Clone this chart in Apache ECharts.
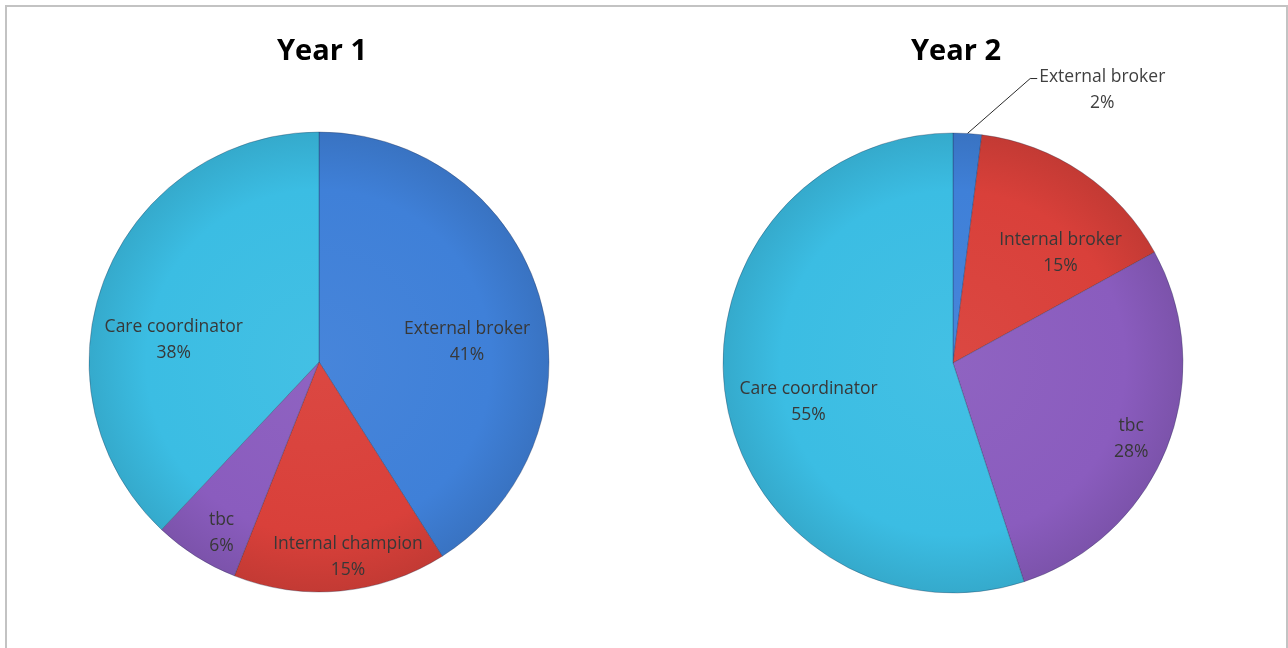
<!DOCTYPE html>
<html>
<head>
<meta charset="utf-8">
<script src="https://cdn.jsdelivr.net/npm/echarts@6/dist/echarts.min.js"></script>
<style>
  html, body { margin: 0; padding: 0; background: #ffffff; overflow: hidden; }
  #frame { position: absolute; left: 5px; top: 5px; width: 1283px; height: 720px;
           border: 2px solid #c3c3c3; box-sizing: border-box; }
  #chart { position: absolute; left: 0; top: 0; width: 1288px; height: 648px; }
</style>
</head>
<body>
<div id="frame"></div>
<div id="chart"></div>
<script>
// Share of cases by role, per year (percent)
const year1Categories = ['External broker', 'Internal champion', 'tbc', 'Care coordinator'];
const year1Values = [41, 15, 6, 38];
const year2Categories = ['External broker', 'Internal broker', 'tbc', 'Care coordinator'];
const year2Values = [2, 15, 28, 55];
const chartTitles = ['Year 1', 'Year 2'];

const sliceColors = ['#3f80d8', '#d9403a', '#8a5cbe', '#3bbde3'];
const FONT = '"Open Sans", "Liberation Sans", sans-serif';
const LABEL_SIZE = 17.5;
const LINE_H = 26;

// pie placement
const R = 230;
const pies = [
  { cx: 319, cy: 362, names: year1Categories, values: year1Values,
    nudge: { 'External broker': [-5, 24], 'Internal champion': [14, 36], 'tbc': [-12, 36], 'Care coordinator': [3, 37] } },
  { cx: 953, cy: 363, names: year2Categories, values: year2Values,
    nudge: { 'Internal broker': [18, 22], 'tbc': [30, 17], 'Care coordinator': [13, 14] } }
];
const SMALL_SLICE = 5; // slices below this get an outside label with a leader line

function mix(hex, target, t) {
  const a = parseInt(hex.slice(1), 16);
  const r = (a >> 16) & 255, g = (a >> 8) & 255, b = a & 255;
  const m = (c, d) => Math.round(c + (d - c) * t);
  return `rgb(${m(r, target)},${m(g, target)},${m(b, target)})`;
}

function shaded(color, p) {
  return new echarts.graphic.RadialGradient(p.cx, p.cy, R, [
    { offset: 0, color: mix(color, 255, 0.04) },
    { offset: 0.75, color: color },
    { offset: 1, color: mix(color, 0, 0.1) }
  ], true);
}

const series = [];
pies.forEach((p, pi) => {
  const main = p.names.map((n, i) => ({
    name: n,
    value: p.values[i],
    itemStyle: { color: shaded(sliceColors[i], p) },
    label: { show: p.values[i] < SMALL_SLICE },
    labelLine: { show: p.values[i] < SMALL_SLICE }
  }));
  series.push({
    type: 'pie',
    center: [p.cx, p.cy],
    radius: [0, R],
    startAngle: 90,
    clockwise: true,
    avoidLabelOverlap: false,
    silent: true,
    itemStyle: { borderColor: 'rgba(30,40,70,0.3)', borderWidth: 1 },
    label: {
      show: false,
      position: 'outside',
      formatter: '{b}\n{d}%',
      fontFamily: FONT, fontSize: LABEL_SIZE, lineHeight: LINE_H,
      color: '#404040'
    },
    labelLine: { show: true, length: 44, length2: 8, lineStyle: { color: '#2a2a2a', width: 1 } },
    // the leader runs diagonally from the slice to the first text line
    labelLayout: params => {
      if (p.values[params.dataIndex] >= SMALL_SLICE) return {};
      const rc = params.labelRect;
      const left = rc.x + 56;
      const firstLineY = rc.y + rc.height / 2 - LINE_H / 2;
      const start = params.labelLinePoints ? params.labelLinePoints[0] : [left, firstLineY];
      return {
        x: left + rc.width / 2,
        y: rc.y + rc.height / 2,
        align: 'center',
        labelLinePoints: [start, [left - 9, firstLineY + 2], [left - 2, firstLineY + 2]]
      };
    },
    data: main
  });

  // label ring: places the in-slice labels part-way out from the centre
  series.push({
    type: 'pie',
    center: [p.cx, p.cy],
    radius: [R * 0.36, R],
    startAngle: 90,
    clockwise: true,
    avoidLabelOverlap: false,
    silent: true,
    z: 3,
    itemStyle: { color: 'rgba(0,0,0,0)', borderWidth: 0 },
    label: {
      show: true,
      position: 'inside',
      formatter: '{b}\n{d}%',
      fontFamily: FONT, fontSize: LABEL_SIZE, lineHeight: LINE_H,
      color: '#383838'
    },
    labelLine: { show: false },
    data: p.names.map((n, i) => ({
      name: n,
      value: p.values[i],
      label: p.values[i] < SMALL_SLICE ? { show: false } : { offset: p.nudge[n] || [0, 0] }
    }))
  });
});

const chart = echarts.init(document.getElementById('chart'), null, { renderer: 'canvas' });
chart.setOption({
  animation: false,
  backgroundColor: 'transparent',
  title: pies.map((p, i) => ({
    text: chartTitles[i],
    left: p.cx + 2 - (i === 0 ? 4 : 4),
    top: 32,
    textAlign: 'center',
    textStyle: { fontFamily: FONT, fontSize: 29, fontWeight: 'bold', color: '#000000' }
  })),
  tooltip: { show: false },
  series: series
});
</script>
</body>
</html>
